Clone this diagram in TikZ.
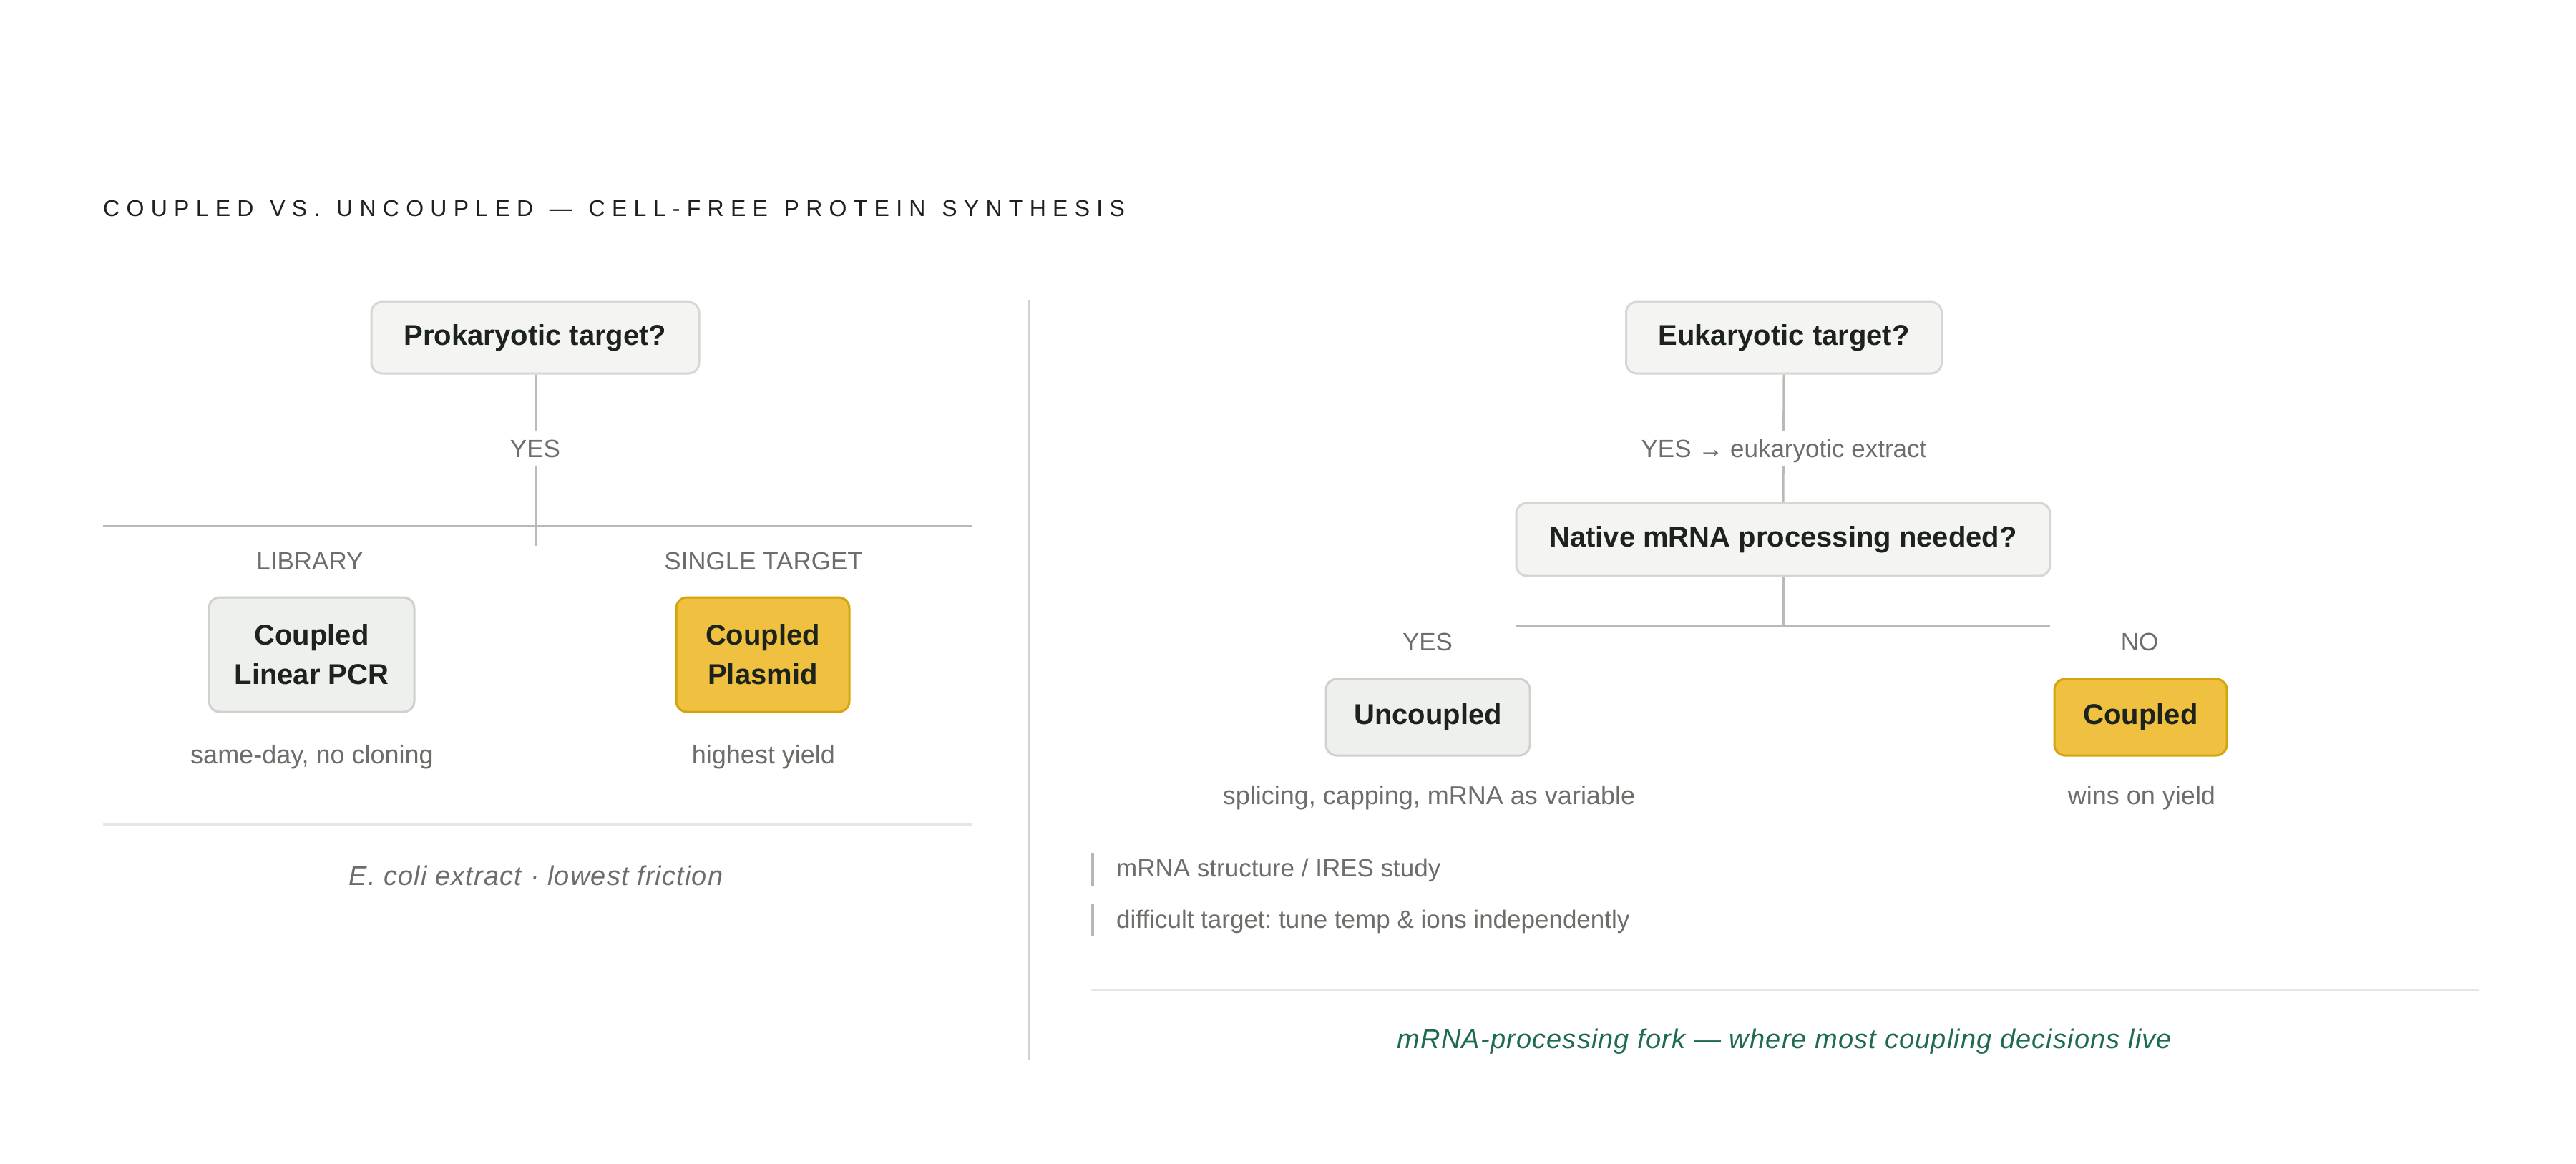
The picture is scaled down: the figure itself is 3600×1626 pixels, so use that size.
\documentclass[tikz,border=0pt]{standalone}
\usepackage{fontspec}
\setmainfont{Liberation Sans}
\newfontfamily\titlefont[LetterSpace=29,WordSpace=1.25]{Liberation Sans}
\frenchspacing
\definecolor{ink}{HTML}{1C231C}
\definecolor{muted}{HTML}{6B6E69}
\definecolor{connline}{HTML}{B8BAB5}
\definecolor{boxfill}{HTML}{F4F4F2}
\definecolor{boxline}{HTML}{D6D6D3}
\definecolor{leaffill}{HTML}{EEF0ED}
\definecolor{leafline}{HTML}{CFD1CD}
\definecolor{goldfill}{HTML}{F0C040}
\definecolor{goldline}{HTML}{D4A50A}
\definecolor{divline}{HTML}{D3D3D1}
\definecolor{ruleline}{HTML}{E6E6E4}
\definecolor{barline}{HTML}{B5B7B3}
\definecolor{greentext}{HTML}{1E6B52}
\begin{document}
\begin{tikzpicture}[x=1pt,y=-1pt,
  qbox/.style={draw=boxline, fill=boxfill, line width=3pt, rounded corners=15pt,
    inner sep=0pt, font=\bfseries\fontsize{40}{55}\selectfont, text=ink, align=center},
  leaf/.style={qbox, fill=leaffill, draw=leafline},
  goldbox/.style={qbox, fill=goldfill, draw=goldline},
  lbl/.style={font=\fontsize{36}{44}\selectfont, text=muted, inner sep=0pt},
  caplbl/.style={font=\fontsize{35}{44}\selectfont, text=muted, inner sep=0pt},
  gaplbl/.style={caplbl, fill=white, minimum height=48pt, text height=25pt, text depth=0pt, inner xsep=2pt},
  conn/.style={draw=connline, line width=3pt},
  note/.style={font=\fontsize{35}{44}\selectfont, text=muted, inner sep=0pt, anchor=base west},
  noteitalic/.style={font=\itshape\fontsize{38}{44}\selectfont\addfontfeatures{LetterSpace=3}, inner sep=0pt}
]
\useasboundingbox[fill=white] (0,0) rectangle (3600,1626);

% title
\node[anchor=base west, inner sep=0pt, text=ink,
  font=\titlefont\fontsize{32}{40}\selectfont] (title) at (144,302)
  {COUPLED VS. UNCOUPLED — CELL-FREE PROTEIN SYNTHESIS};

% divider
\coordinate (divtop) at (1437,420);
\coordinate (divbot) at (1437,1481);
\draw[draw=divline, line width=3pt] (divtop) -- (divbot);

% ---------------- left panel ----------------
\node[qbox, minimum width=458pt, minimum height=100pt] (pro) at (748,472) {Prokaryotic target?};
\coordinate (proend) at (748,763);
\coordinate (lhL) at (144,735);
\coordinate (lhR) at (1358,735);
\draw[conn] (lhL) -- (lhR);
\draw[conn] (pro.south) -- (proend);
\node[gaplbl] (proyes) at (748,627) {YES};

\node[caplbl] (lib) at (433,784) {LIBRARY};
\node[caplbl] (single) at (1067,784) {SINGLE TARGET};

\node[leaf, minimum width=287pt, minimum height=160pt] (clp) at (435.5,915) {Coupled\\Linear PCR};
\node[goldbox, minimum width=242pt, minimum height=160pt] (cpl) at (1066,915) {Coupled\\Plasmid};

\node[lbl] (clpnote) at (436,1058) {same-day, no cloning};
\node[lbl] (cplnote) at (1067,1058) {highest yield};

\coordinate (lrL) at (144,1152);
\coordinate (lrR) at (1358,1152);
\draw[draw=ruleline, line width=3pt] (lrL) -- (lrR);
\node[noteitalic, text=muted] (ecoli) at (749,1224) {E. coli extract · lowest friction};

% ---------------- right panel ----------------
\node[qbox, minimum width=441pt, minimum height=100pt] (euk) at (2493,472) {Eukaryotic target?};
\node[qbox, minimum width=746pt, minimum height=102pt] (nat) at (2492,754) {Native mRNA processing needed?};
\draw[conn] (euk.south) -- (nat.north);
\node[gaplbl] (eukyes) at (2493,627) {YES → eukaryotic extract};

\coordinate (rhL) at (2118,874);
\coordinate (rhR) at (2865,874);
\coordinate (rhM) at (2492,874);
\draw[conn] (rhL) -- (rhR);
\draw[conn] (nat.south) -- (rhM);

\node[caplbl] (ryes) at (1995,897) {YES};
\node[caplbl] (rno) at (2990,897) {NO};

\node[leaf, minimum width=285pt, minimum height=107pt] (unc) at (1995.5,1002.5) {Uncoupled};
\node[goldbox, minimum width=241pt, minimum height=107pt] (cou) at (2991.5,1002.5) {Coupled};

\node[lbl] (uncnote) at (1997,1115) {splicing, capping, mRNA as variable};
\node[lbl] (counote) at (2993,1115) {wins on yield};

% side notes
\coordinate (b1t) at (1526,1192);
\coordinate (b1b) at (1526,1238);
\coordinate (b2t) at (1526,1263);
\coordinate (b2b) at (1526,1309);
\draw[draw=barline, line width=5pt] (b1t) -- (b1b);
\draw[draw=barline, line width=5pt] (b2t) -- (b2b);
\node[note] (n1) at (1560,1225) {mRNA structure / IRES study};
\node[note] (n2) at (1560,1297) {difficult target: tune temp \& ions independently};

\coordinate (rrL) at (1524,1383);
\coordinate (rrR) at (3465,1383);
\draw[draw=ruleline, line width=3pt] (rrL) -- (rrR);
\node[noteitalic, text=greentext] (fork) at (2494,1456) {mRNA-processing fork — where most coupling decisions live};
\end{tikzpicture}
\end{document}
